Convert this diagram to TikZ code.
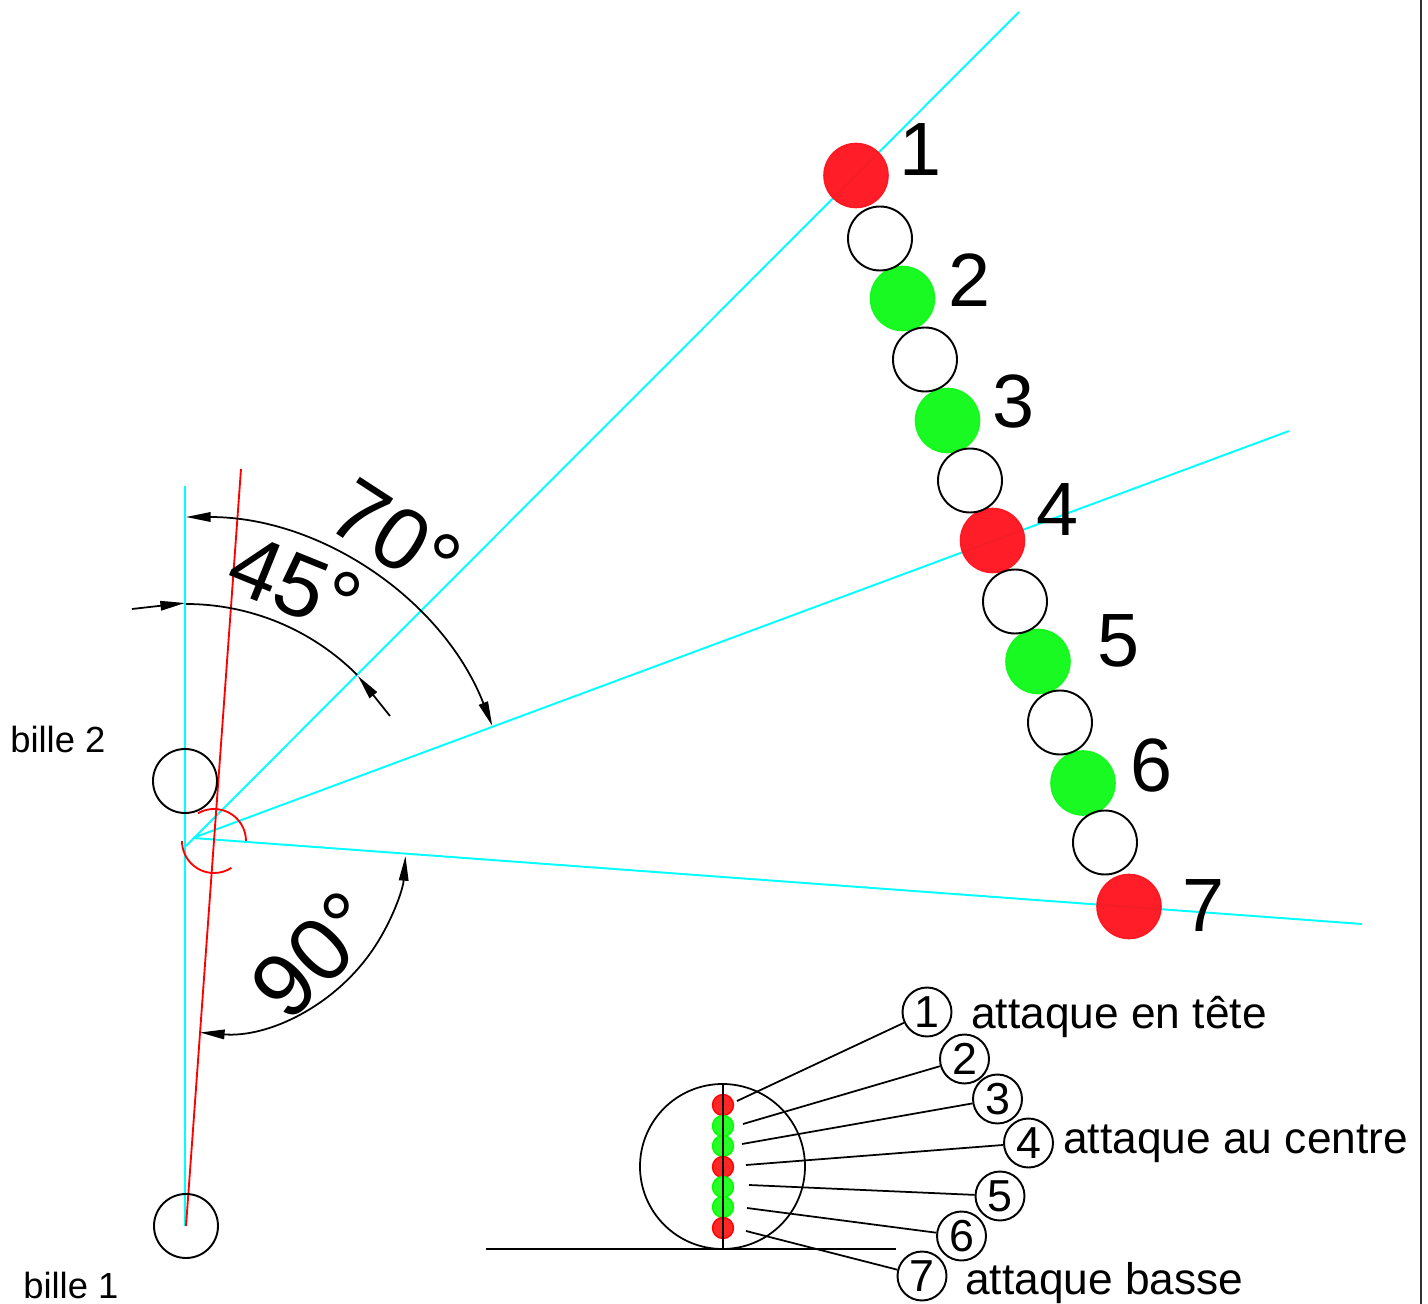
\documentclass[tikz,border=0pt]{standalone}
\usepackage{fontspec}
\setmainfont{Liberation Sans}
\usetikzlibrary{arrows.meta}
\definecolor{cy}{RGB}{0,255,255}
\definecolor{ballgreen}{RGB}{15,250,25}
\definecolor{ballred}{RGB}{255,20,30}
\tikzset{
  x=0.02cm,y=0.02cm,
  ball/.style={circle,minimum size=64*0.02cm,inner sep=0pt,draw=#1,fill=#1,line width=0.9pt,opacity=0.96},
  hollow/.style={circle,minimum size=64*0.02cm,inner sep=0pt,draw=black,line width=1.1pt},
  mini/.style={circle,minimum size=21*0.02cm,inner sep=0pt,draw=#1,fill=#1!85!white,line width=0.8pt},
  nb/.style={circle,minimum size=49*0.02cm,inner sep=0pt,draw=black,line width=1.1pt,font=\fontsize{25.5}{25.5}\selectfont},
  big/.style={font=\fontsize{43}{43}\selectfont,inner sep=0pt},
  ang/.style={font=\fontsize{#1}{#1}\selectfont,inner sep=0pt},
  lab/.style={font=\fontsize{25.2}{25.2}\selectfont,inner sep=0pt,anchor=base west},
  small/.style={font=\fontsize{20.7}{20.7}\selectfont,inner sep=0pt,anchor=base west},
  cyl/.style={cy,line width=1.1pt},
  redl/.style={red,line width=1.05pt},
  blk/.style={black,line width=1pt},
  tip/.style={-{Triangle[length=14pt,width=5.4pt]}},
  tips/.style={{Triangle[length=14pt,width=5.4pt]}-{Triangle[length=14pt,width=5.4pt]}},
}
\begin{document}
\begin{tikzpicture}
\useasboundingbox (0,0) rectangle (1428,-1304);
% frame edge
\coordinate (ft) at (1421,0); \coordinate (fb) at (1421,-1304);
\draw[black!80,line width=1.5pt] (ft) -- (fb);
% construction coordinates
\coordinate (oa) at (186,-846);
\coordinate (ob) at (193,-838);
\coordinate (ea) at (1019,-12);
\coordinate (eb) at (1289,-431);
\coordinate (ec) at (1362,-924);
\coordinate (vt) at (185,-486);
\coordinate (vb) at (185,-1226);
\coordinate (rt) at (241,-469);
\coordinate (rb) at (186,-1226);
% cyan and red lines
\draw[cyl] (vt) -- (vb);
\draw[cyl] (oa) -- (ea);
\draw[cyl] (ob) -- (eb);
\draw[cyl] (ob) -- (ec);
\draw[redl] (rt) -- (rb);
% red arcs
\draw[redl] (214,-841) ++(120:32) arc[start angle=120,end angle=0,radius=32];
\draw[redl] (214,-841) ++(180:32) arc[start angle=180,end angle=303,radius=32];
% balls
\node[hollow] (b2) at (185,-781) {};
\node[hollow] (b1) at (186,-1226) {};
\foreach \n/\x/\y/\c in {p1/856/175.5/ballred,p2/902.5/298.5/ballgreen,p3/947.5/420.5/ballgreen,p4/992.5/540.5/ballred,p5/1038/661.5/ballgreen,p6/1083/783/ballgreen,p7/1129/906.5/ballred}
  \node[ball=\c] (\n) at (\x,-\y) {};
\foreach \n/\x/\y in {w1/880/238.5,w2/925/359.5,w3/970/480.5,w4/1015/601.5,w5/1060/722.5,w6/1105/842.5}
  \node[hollow] (\n) at (\x,-\y) {};
% position numbers
\node[big] (n1) at (921,-150) {1};
\node[big] (n2) at (970,-280) {2};
\node[big] (n3) at (1014,-401) {3};
\node[big] (n4) at (1058,-510) {4};
\node[big] (n5) at (1119,-641) {5};
\node[big] (n6) at (1151,-765) {6};
\node[big] (n7) at (1203,-906) {7};
% dimension arcs
\draw[blk,tips] (186,-517) arc[start angle=90,end angle=21.4,radius=329];
\draw[blk] (186,-604) arc[start angle=90,end angle=45,radius=242];
\coordinate (a45l) at (132,-609); \coordinate (a45lt) at (185,-603);
\coordinate (a45r) at (390,-716); \coordinate (a45rt) at (358,-676);
\draw[blk,tip] (a45l) -- (a45lt);
\draw[blk,tip] (a45r) -- (a45rt);
\draw[blk,tips] (200,-1032.5) arc[start angle=-94.5,end angle=-4.2,radius=191];
\node[ang=50,rotate=-33] (t70) at (396,-536) {70°};
\node[ang=50,rotate=-22] (t45) at (295,-584) {45°};
\node[ang=51,rotate=45] (t90) at (315,-955) {90°};
\node[small] (tb2) at (10,-752) {bille 2};
\node[small] (tb1) at (23,-1298) {bille 1};
% side view
\node[circle,minimum size=165*0.02cm,inner sep=0pt,draw=black,line width=1pt] (ballv) at (722.5,-1166.5) {};
\foreach \n/\y/\c in {s1/1105/red,s2/1126/green,s3/1146/green,s4/1167/red,s5/1187/green,s6/1207/green,s7/1228/red}
  \node[mini=\c] (\n) at (723,-\y) {};
\coordinate (gl) at (486,-1249); \coordinate (gr) at (896,-1249);
\coordinate (vtop) at (723,-1084); \coordinate (vbot) at (723,-1249);
\draw[blk] (gl) -- (gr);
\draw[blk] (vtop) -- (vbot);
% numbered callouts
\node[nb] (c1) at (927,-1012) {1};
\node[nb] (c2) at (964.5,-1059) {2};
\node[nb] (c3) at (997.5,-1099) {3};
\node[nb] (c4) at (1028.5,-1143) {4};
\node[nb] (c5) at (1000,-1196) {5};
\node[nb] (c6) at (961.5,-1236) {6};
\node[nb] (c7) at (922,-1276) {7};
\foreach \i/\x/\y in {1/737/1101,2/743/1124,3/742/1144,4/746/1165,5/749/1185,6/747/1208,7/746/1231}{
  \coordinate (l\i) at (\x,-\y);
  \draw[blk] (l\i) -- (c\i);
}
\node[lab] (t1) at (971,-1028) {attaque en tête};
\node[lab] (t2) at (1063,-1153) {attaque au centre};
\node[lab] (t3) at (965,-1294) {attaque basse};
\end{tikzpicture}
\end{document}
